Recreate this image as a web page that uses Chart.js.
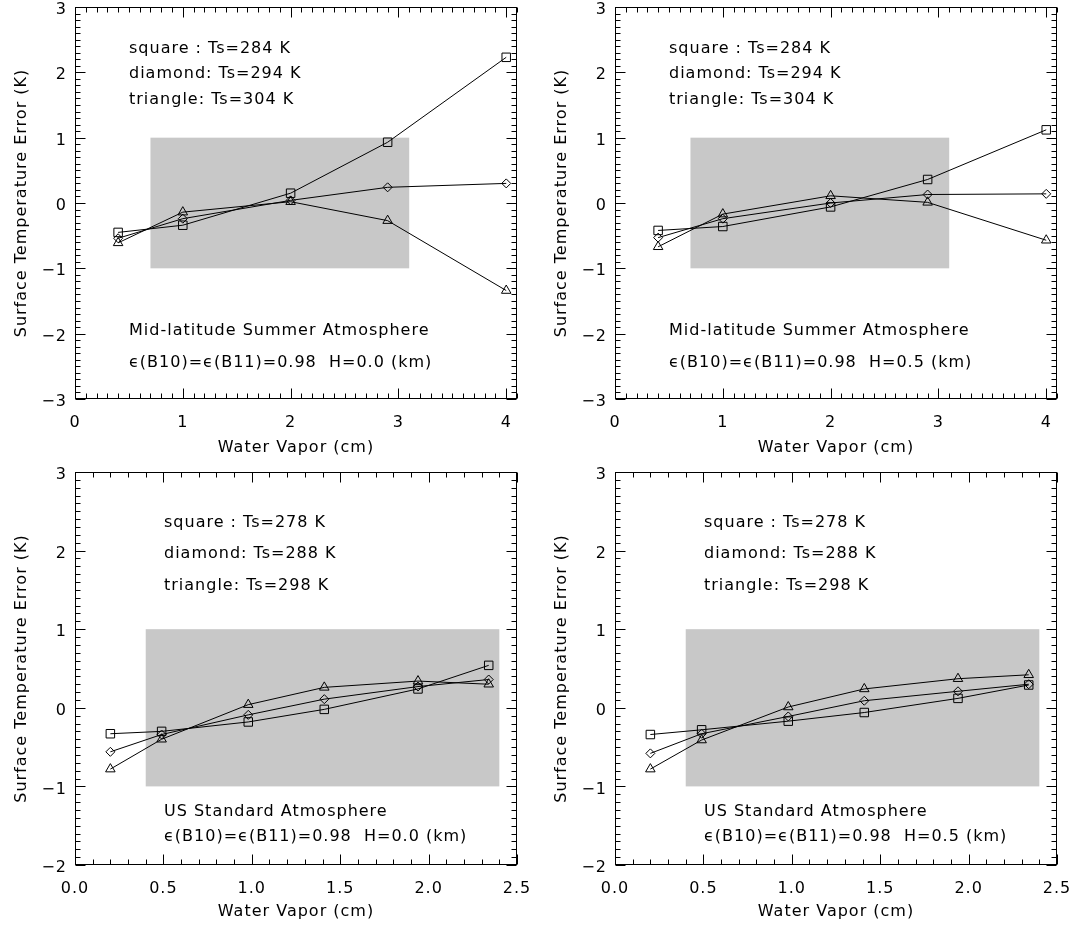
<!DOCTYPE html>
<html>
<head>
<meta charset="utf-8">
<script src="https://cdn.jsdelivr.net/npm/chart.js@4.4.1/dist/chart.umd.min.js"></script>
<style>
  html, body { margin: 0; padding: 0; background: #fff; }
  #wrap { position: relative; width: 1072px; height: 929px; }
  canvas { position: absolute; }
</style>
</head>
<body>
<div id="wrap">
  <canvas id="mlsH0" width="532" height="464" style="left:0;top:0"></canvas>
  <canvas id="mlsH5" width="532" height="464" style="left:540px;top:0"></canvas>
  <canvas id="usH0" width="532" height="465" style="left:0;top:464px"></canvas>
  <canvas id="usH5" width="532" height="465" style="left:540px;top:464px"></canvas>
</div>
<script>
// Water vapour (cm) of each profile
const mlsX = [0.4, 1.0, 2.0, 2.9, 4.0];
const usX = [0.2, 0.49, 0.98, 1.41, 1.94, 2.34];

// Mid-latitude summer, H = 0.0 km
const mlsH0Square = [-0.45, -0.34, 0.15, 0.93, 2.23];
const mlsH0Diamond = [-0.54, -0.24, 0.04, 0.24, 0.30];
const mlsH0Triangle = [-0.61, -0.14, 0.02, -0.27, -1.34];

// Mid-latitude summer, H = 0.5 km
const mlsH5Square = [-0.42, -0.36, -0.06, 0.36, 1.12];
const mlsH5Diamond = [-0.53, -0.24, 0.0, 0.13, 0.14];
const mlsH5Triangle = [-0.67, -0.17, 0.11, 0.01, -0.57];

// US standard, H = 0.0 km
const usH0Square = [-0.33, -0.30, -0.18, -0.02, 0.24, 0.54];
const usH0Diamond = [-0.56, -0.34, -0.09, 0.11, 0.27, 0.36];
const usH0Triangle = [-0.78, -0.40, 0.04, 0.26, 0.34, 0.30];

// US standard, H = 0.5 km
const usH5Square = [-0.34, -0.28, -0.17, -0.06, 0.12, 0.29];
const usH5Diamond = [-0.58, -0.33, -0.11, 0.09, 0.21, 0.30];
const usH5Triangle = [-0.78, -0.41, 0.01, 0.24, 0.37, 0.42];

// +-1 K band
const mlsBoxX = [0.7, 3.1];
const usBoxX = [0.4, 2.4];
const boxY = [-1, 1];

// Axes
const mlsXTicks = [0, 1, 2, 3, 4];
const mlsYTicks = [-3, -2, -1, 0, 1, 2, 3];
const usXTicks = [0, 0.5, 1.0, 1.5, 2.0, 2.5];
const usYTicks = [-2, -1, 0, 1, 2, 3];

// Texts
const mlsLegend = ['square : Ts=284 K', 'diamond: Ts=294 K', 'triangle: Ts=304 K'];
const usLegend = ['square : Ts=278 K', 'diamond: Ts=288 K', 'triangle: Ts=298 K'];
const mlsName = 'Mid-latitude Summer Atmosphere';
const usName = 'US Standard Atmosphere';
const emisH0 = 'ϵ(B10)=ϵ(B11)=0.98  H=0.0 (km)';
const emisH5 = 'ϵ(B10)=ϵ(B11)=0.98  H=0.5 (km)';

const FONT = 'DejaVu Sans';

function line(ctx, x1, y1, x2, y2) {
    ctx.beginPath();
    ctx.moveTo(x1, y1);
    ctx.lineTo(x2, y2);
    ctx.stroke();
}

// Inward ticks on all four sides, major ones longer
function tickMarks(ctx, scale, step, isX, a) {
    const n = Math.round((scale.max - scale.min) / step);
    for (let i = 0; i <= n; i++) {
        const v = scale.min + i * step;
        const major = scale.ticks.some(t => Math.abs(t.value - v) < step / 2);
        const len = major ? 10 : 5;
        const p = Math.round(scale.getPixelForValue(v)) + 0.5;
        if (isX) {
            line(ctx, p, a.bottom, p, a.bottom - len);
            line(ctx, p, a.top, p, a.top + len);
        } else {
            line(ctx, a.left, p, a.left + len, p);
            line(ctx, a.right, p, a.right - len, p);
        }
    }
}

const idlAxes = {
    id: 'idlAxes',
    beforeDraw(chart) {
        chart.ctx.letterSpacing = '1px';
    },
    beforeDatasetsDraw(chart, args, opts) {
        const { ctx, scales: { x, y } } = chart;
        const x0 = x.getPixelForValue(opts.boxX[0]);
        const x1 = x.getPixelForValue(opts.boxX[1]);
        const y0 = y.getPixelForValue(opts.boxY[1]);
        const y1 = y.getPixelForValue(opts.boxY[0]);
        ctx.save();
        ctx.fillStyle = '#c8c8c8';
        ctx.fillRect(x0, y0, x1 - x0, y1 - y0);
        ctx.restore();
    },
    afterDraw(chart, args, opts) {
        const { ctx, chartArea: a, scales: { x, y } } = chart;
        ctx.save();
        ctx.strokeStyle = '#000';
        ctx.lineWidth = 1;
        const l = Math.round(a.left) + 0.5, t = Math.round(a.top) + 0.5;
        const r = Math.round(a.right) - 0.5, b = Math.round(a.bottom) - 0.5;
        ctx.strokeRect(l, t, r - l, b - t);
        const box = { left: l, top: t, right: r, bottom: b };
        tickMarks(ctx, x, opts.xMinor, true, box);
        tickMarks(ctx, y, 0.1, false, box);

        ctx.fillStyle = '#000';
        ctx.font = '16px "' + FONT + '"';
        ctx.textBaseline = 'middle';
        ctx.textAlign = 'left';
        opts.lines.forEach(item => ctx.fillText(item.text, a.left + item.dx, a.top + item.dy));
        ctx.restore();
    }
};

function ds(xs, ys, style, radius) {
    return {
        data: xs.map((v, i) => ({ x: v, y: ys[i] })),
        showLine: true,
        borderColor: '#000',
        borderWidth: 1,
        backgroundColor: 'rgba(0,0,0,0)',
        pointStyle: style,
        pointRadius: radius,
        pointBorderColor: '#000',
        pointBorderWidth: 1,
        pointBackgroundColor: 'rgba(0,0,0,0)'
    };
}

function minus(v, digits) {
    const s = digits ? Math.abs(v).toFixed(digits) : String(Math.abs(v));
    return (v < 0 ? '−' : '') + s;
}

function makePanel(id, cfg) {
    new Chart(document.getElementById(id), {
        type: 'scatter',
        data: {
            datasets: [
                ds(cfg.xs, cfg.square, 'rect', 6),
                ds(cfg.xs, cfg.diamond, 'rectRot', 4.5),
                ds(cfg.xs, cfg.triangle, 'triangle', 5.5)
            ]
        },
        options: {
            responsive: false,
            animation: false,
            events: [],
            layout: { padding: { top: cfg.top, right: 15, left: 0, bottom: 0 } },
            plugins: {
                legend: { display: false },
                tooltip: { enabled: false },
                idlAxes: { boxX: cfg.boxX, boxY: boxY, xMinor: 0.1, lines: cfg.lines }
            },
            scales: {
                x: {
                    type: 'linear',
                    min: cfg.xMin, max: cfg.xMax,
                    grid: { display: false, drawTicks: false },
                    border: { display: false },
                    afterBuildTicks: s => { s.ticks = cfg.xTicks.map(v => ({ value: v })); },
                    afterFit: s => {
                        s.height = cfg.xHeight;
                        s.paddingLeft = 0;
                        s.paddingRight = 0;
                    },
                    ticks: {
                        color: '#000', padding: 14,
                        font: { family: FONT, size: 16 },
                        callback: v => minus(v, cfg.xDigits)
                    },
                    title: {
                        display: true, text: 'Water Vapor (cm)', color: '#000',
                        font: { family: FONT, size: 16 },
                        padding: { top: 0, bottom: cfg.titlePad }
                    }
                },
                y: {
                    type: 'linear',
                    min: cfg.yMin, max: cfg.yMax,
                    grid: { display: false, drawTicks: false },
                    border: { display: false },
                    afterBuildTicks: s => { s.ticks = cfg.yTicks.map(v => ({ value: v })); },
                    afterFit: s => {
                        s.width = 75;
                        s.paddingTop = 0;
                        s.paddingBottom = 0;
                    },
                    ticks: {
                        color: '#000', padding: 8, labelOffset: 3,
                        font: { family: FONT, size: 16 },
                        callback: v => minus(v, 0)
                    },
                    title: {
                        display: true, text: 'Surface Temperature Error (K)', color: '#000',
                        font: { family: FONT, size: 16 },
                        padding: { top: 12, bottom: 0 }
                    }
                }
            }
        },
        plugins: [idlAxes]
    });
}

function mlsLines(emis) {
    return [
        { text: mlsLegend[0], dx: 54, dy: 42 },
        { text: mlsLegend[1], dx: 54, dy: 67 },
        { text: mlsLegend[2], dx: 54, dy: 93 },
        { text: mlsName, dx: 54, dy: 324 },
        { text: emis, dx: 54, dy: 356 }
    ];
}

function usLines(emis) {
    return [
        { text: usLegend[0], dx: 89, dy: 51 },
        { text: usLegend[1], dx: 89, dy: 82 },
        { text: usLegend[2], dx: 89, dy: 114 },
        { text: usName, dx: 89, dy: 340 },
        { text: emis, dx: 89, dy: 365 }
    ];
}

const mlsBase = {
    xs: mlsX, xMin: 0, xMax: 4.1, yMin: -3, yMax: 3,
    xTicks: mlsXTicks, yTicks: mlsYTicks, xDigits: 0,
    boxX: mlsBoxX, top: 6, xHeight: 65, titlePad: 7
};
const usBase = {
    xs: usX, xMin: 0, xMax: 2.5, yMin: -2, yMax: 3,
    xTicks: usXTicks, yTicks: usYTicks, xDigits: 1,
    boxX: usBoxX, top: 8, xHeight: 64, titlePad: 8
};

makePanel('mlsH0', Object.assign({}, mlsBase, {
    square: mlsH0Square, diamond: mlsH0Diamond, triangle: mlsH0Triangle, lines: mlsLines(emisH0)
}));
makePanel('mlsH5', Object.assign({}, mlsBase, {
    square: mlsH5Square, diamond: mlsH5Diamond, triangle: mlsH5Triangle, lines: mlsLines(emisH5)
}));
makePanel('usH0', Object.assign({}, usBase, {
    square: usH0Square, diamond: usH0Diamond, triangle: usH0Triangle, lines: usLines(emisH0)
}));
makePanel('usH5', Object.assign({}, usBase, {
    square: usH5Square, diamond: usH5Diamond, triangle: usH5Triangle, lines: usLines(emisH5)
}));
</script>
</body>
</html>
